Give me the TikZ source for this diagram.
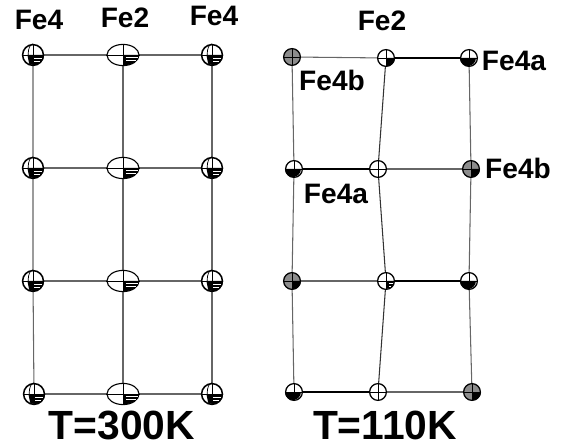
\documentclass[tikz,border=0pt]{standalone}
\usepackage{fontspec}
\setmainfont{Liberation Sans}
\usepackage{tikz}
\usetikzlibrary{shapes.geometric,backgrounds,calc}
\newcommand{\bondcolor}{black!60}
\newcommand{\rsmall}{0.2}
\newcommand{\rmid}{0.25}
\newcommand{\rbig}{0.4}
\newcommand{\rflat}{0.26}
\tikzset{
  fefour/.style={circle,draw,fill=white,line width=1.1pt,inner sep=0pt,minimum size=0.52cm},
  fetwo/.style={ellipse,draw,fill=white,line width=0.8pt,inner sep=0pt,minimum width=0.8cm,minimum height=0.53cm},
  feplain/.style={circle,draw,fill=white,line width=0.9pt,inner sep=0pt,minimum size=0.42cm},
  fegray/.style={feplain,fill=black!45},
  bond/.style={draw=\bondcolor,line width=0.75pt},
  atomlabel/.style={font=\fontsize{20}{20}\selectfont\bfseries,inner sep=0pt},
  templabel/.style={font=\fontsize{29}{29}\selectfont\bfseries,inner sep=0pt}
}
% cross only
\newcommand{\crossed}[1]{
\draw[black,line width=0.6pt] (#1.west) -- (#1.east);
\draw[black,line width=0.6pt] (#1.north) -- (#1.south);
}
% lower right octant with white bars
\newcommand{\barred}[3]{
\fill[black] (#1.center) -- ++(#2,0) arc (0:-90:#2 and #3) -- cycle;
\draw[white,line width=0.5pt] ($(#1.center)+(0.07,-0.07)$) -- ++(#2-0.1,0);
\draw[white,line width=0.5pt] ($(#1.center)+(0.07,-0.14)$) -- ++(#2-0.14,0);
\crossed{#1}
}
% same, for the round atoms: the bars run over most of the lower half
\newcommand{\barredround}[1]{
\fill[black] ($(#1.center)+(-0.14,0)$) -- (#1.east) arc (0:-120:\rmid) -- cycle;
\draw[white,line width=0.45pt] ($(#1.center)+(0.02,-0.08)$) -- ++(0.2,0);
\draw[white,line width=0.45pt] ($(#1.center)+(0.02,-0.15)$) -- ++(0.16,0);
\draw[line width=0.5pt] (#1.north) arc (90:270:0.12 and \rmid);
\crossed{#1}
}
% black lower right quarter
\newcommand{\quarter}[1]{
\fill[black] (#1.center) -- (#1.east) arc (0:-90:\rsmall) -- cycle;
\crossed{#1}
}
% black lower half
\newcommand{\lowerhalf}[1]{
\fill[black] (#1.west) arc (180:360:\rsmall) -- cycle;
\crossed{#1}
}

\begin{document}
\begin{tikzpicture}
\useasboundingbox (0,0) rectangle (14.025,-11.175);
%T=300K
\node[fefour] (1) at (0.825, -1.375) {};
\node[fetwo] (2) at (3.075, -1.375) {};
\node[fefour] (3) at (5.3, -1.375) {};
\node[fefour] (4) at (0.825, -4.2) {};
\node[fetwo] (5) at (3.075, -4.2) {};
\node[fefour] (6) at (5.3, -4.2) {};
\node[fefour] (7) at (0.825, -7.025) {};
\node[fetwo] (8) at (3.075, -7.025) {};
\node[fefour] (9) at (5.3, -7.025) {};
\node[fefour] (10) at (0.85, -9.85) {};
\node[fetwo] (11) at (3.075, -9.85) {};
\node[fefour] (12) at (5.3, -9.85) {};
%T=110K
\node[fegray] (13) at (7.3, -1.425) {};
\node[feplain] (14) at (9.65, -1.45) {};
\node[feplain] (15) at (11.725, -1.45) {};
\node[feplain] (16) at (7.35, -4.225) {};
\node[feplain] (17) at (9.45, -4.225) {};
\node[fegray] (18) at (11.775, -4.225) {};
\node[fegray] (19) at (7.3, -7.025) {};
\node[feplain] (20) at (9.65, -7.025) {};
\node[feplain] (21) at (11.725, -7.025) {};
\node[feplain] (22) at (7.35, -9.8) {};
\node[feplain] (23) at (9.45, -9.8) {};
\node[fegray] (24) at (11.8, -9.8) {};
%bonds
\begin{scope}[on background layer]
\draw[bond] (1.center) -- (3.center);
\draw[bond] (4.center) -- (6.center);
\draw[bond] (7.center) -- (9.center);
\draw[bond] (10.center) -- (12.center);
\draw[bond] (1.center) -- (4.center) -- (7.center) -- (10.center);
\draw[bond] (2.center) -- (5.center) -- (8.center) -- (11.center);
\draw[bond] (3.center) -- (6.center) -- (9.center) -- (12.center);
\draw[bond] (13.center) -- (14.center);
\draw[bond,draw=black] (14.center) -- (15.center);
\draw[bond,draw=black] (16.center) -- (17.center);
\draw[bond] (17.center) -- (18.center);
\draw[bond] (19.center) -- (20.center);
\draw[bond,draw=black] (20.center) -- (21.center);
\draw[bond,draw=black] (22.center) -- (23.center);
\draw[bond] (23.center) -- (24.center);
\draw[bond] (13.center) -- (16.center) -- (19.center) -- (22.center);
\draw[bond,draw=black!80] (14.center) -- (17.center) -- (20.center) -- (23.center);
\draw[bond] (15.center) -- (18.center) -- (21.center) -- (24.center);
\end{scope}
%octants
\barredround{1}
\barred{2}{\rbig}{\rflat}
\barredround{3}
\barredround{4}
\barred{5}{\rbig}{\rflat}
\barredround{6}
\barredround{7}
\barred{8}{\rbig}{\rflat}
\barredround{9}
\barredround{10}
\barred{11}{\rbig}{\rflat}
\barredround{12}
\crossed{13}
\quarter{14}
\lowerhalf{15}
\lowerhalf{16}
\crossed{17}
\quarter{18}
\quarter{19}
\barred{20}{\rsmall}{\rsmall}
\lowerhalf{21}
\lowerhalf{22}
\crossed{23}
\quarter{24}
%labels
\node[atomlabel] (l1) at (0.975, -0.5) {Fe4};
\node[atomlabel] (l2) at (3.125, -0.45) {Fe2};
\node[atomlabel] (l3) at (5.35, -0.4) {Fe4};
\node[atomlabel] (l4) at (9.55, -0.525) {Fe2};
\node[atomlabel] (l5) at (12.85, -1.525) {Fe4a};
\node[atomlabel] (l6) at (8.3, -2.0) {Fe4b};
\node[atomlabel] (l7) at (12.95, -4.2) {Fe4b};
\node[atomlabel] (l8) at (8.4, -4.85) {Fe4a};
\node[templabel] (t1) at (3.05, -10.63) {T=300K};
\node[templabel] (t2) at (9.625, -10.63) {T=110K};
\end{tikzpicture}
\end{document}
